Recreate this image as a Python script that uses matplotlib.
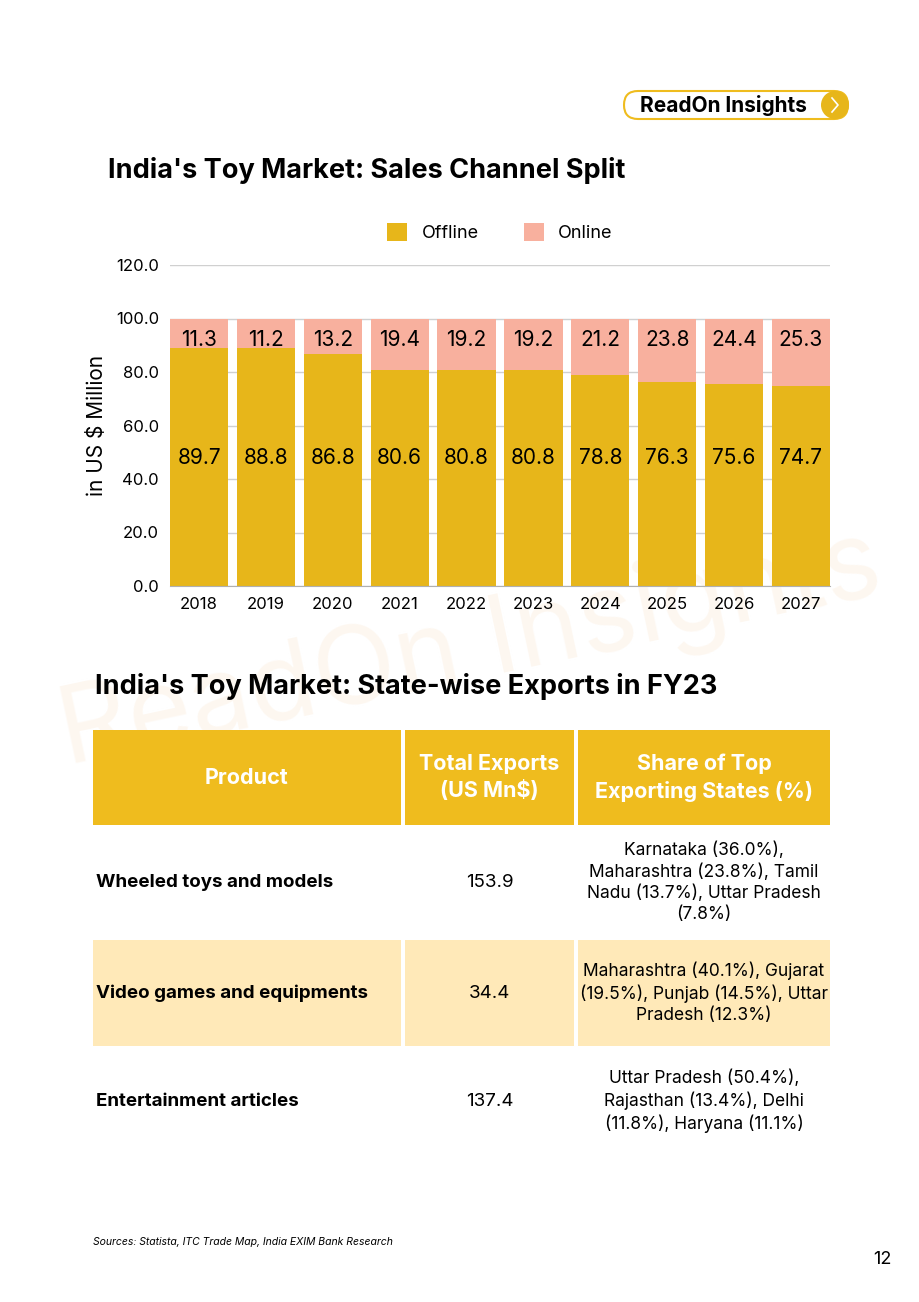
import numpy as np
import matplotlib.pyplot as plt
from matplotlib.patches import FancyBboxPatch, Rectangle, Circle

plt.rcParams['font.family'] = ['Inter', 'DejaVu Sans']

years = ["2018", "2019", "2020", "2021", "2022", "2023", "2024", "2025", "2026", "2027"]
offline = [89.7, 88.8, 86.8, 80.6, 80.8, 80.8, 78.8, 76.3, 75.6, 74.7]
online = [11.3, 11.2, 13.2, 19.4, 19.2, 19.2, 21.2, 23.8, 24.4, 25.3]

products = ["Wheeled toys and models", "Video games and equipments", "Entertainment articles"]
exports = ["153.9", "34.4", "137.4"]
states = ["Karnataka (36.0%),\nMaharashtra (23.8%), Tamil\nNadu (13.7%), Uttar Pradesh\n(7.8%)",
          "Maharashtra (40.1%), Gujarat\n(19.5%), Punjab (14.5%), Uttar\nPradesh (12.3%)",
          "Uttar Pradesh (50.4%),\nRajasthan (13.4%), Delhi\n(11.8%), Haryana (11.1%)"]
headers = ["Product", "Total Exports\n(US Mn$)", "Share of Top\nExporting States (%)"]

c_off = "#E7B61A"
c_on = "#F8B09E"
c_head = "#EFBC1E"
c_band = "#FFE9B8"

W, H = 920, 1302
fig = plt.figure(figsize=(W / 100, H / 100), dpi=100)

# page overlay in pixel coords
bg = fig.add_axes([0, 0, 1, 1])
bg.set_xlim(0, W)
bg.set_ylim(H, 0)
bg.axis("off")

# watermark
bg.text(470, 650, "ReadOn Insights", fontsize=78, color="#FBE6CF", alpha=0.3,
        rotation=12, ha="center", va="center", zorder=0)

# badge
bg.add_patch(FancyBboxPatch((624, 91), 224, 28, boxstyle="round,pad=0,rounding_size=14",
                            fc="white", ec="#EFBC1E", lw=1.5, zorder=2))
bg.add_patch(Circle((835, 105), 14, fc="#E7B61A", ec="none", zorder=3))
bg.plot([832, 838, 832], [98, 105, 112], color="white", lw=1.2, zorder=4)
bg.text(640, 105, "ReadOn Insights", fontsize=15, fontweight="bold", ha="left", va="center", zorder=4)

bg.text(108, 170, "India's Toy Market: Sales Channel Split", fontsize=19.5, fontweight="bold",
        ha="left", va="center")
bg.text(95, 687, "India's Toy Market: State-wise Exports in FY23", fontsize=19.5, fontweight="bold",
        ha="left", va="center")

# bar chart
ax = fig.add_axes([170 / W, 1 - 586 / H, 660 / W, (586 - 265) / H])
tot = np.array(offline) + np.array(online)
off_pct = np.array(offline) / tot * 100
on_pct = 100 - off_pct
x = np.arange(len(years))
ax.bar(x, off_pct, width=0.87, color=c_off, label="Offline", zorder=2)
ax.bar(x, on_pct, width=0.87, bottom=off_pct, color=c_on, label="Online", zorder=2)
for i in range(len(years)):
    ax.text(x[i], 48, f"{offline[i]:.1f}", ha="center", va="center", fontsize=15, zorder=3)
    ax.text(x[i], 92, f"{online[i]:.1f}", ha="center", va="center", fontsize=15, zorder=3)
ax.set_xlim(-0.435, len(years) - 1 + 0.435)
ax.set_ylim(0, 120)
ax.set_yticks(np.arange(0, 121, 20))
ax.set_yticklabels([f"{v:.1f}" for v in np.arange(0, 121, 20)], fontsize=12)
ax.set_xticks(x)
ax.set_xticklabels(years, fontsize=12)
ax.tick_params(length=0, pad=8)
ax.grid(axis="y", color="#D0D0D0", lw=1, zorder=0)
for s in ["top", "right", "left"]:
    ax.spines[s].set_visible(False)
ax.spines["bottom"].set_color("#B0B0B0")
ax.set_ylabel("in US $ Million", fontsize=15, labelpad=6)
ax.patch.set_alpha(0)
ax.legend(loc="center", bbox_to_anchor=(0.5, 1.1), ncol=2, frameon=False, fontsize=13,
          handlelength=1.1, handleheight=1.1, columnspacing=2.5)

# table
cols = [(93, 401), (405, 574), (578, 830)]
rows = [(730, 825), (827, 938), (940, 1046), (1048, 1155)]
for (x0, x1) in cols:
    bg.add_patch(Rectangle((x0, rows[0][0]), x1 - x0, rows[0][1] - rows[0][0], fc=c_head, ec="none"))
for (x0, x1) in cols:
    bg.add_patch(Rectangle((x0, rows[2][0]), x1 - x0, rows[2][1] - rows[2][0], fc=c_band, ec="none"))
for j, h in enumerate(headers):
    cx = (cols[j][0] + cols[j][1]) / 2
    bg.text(cx, (rows[0][0] + rows[0][1]) / 2, h, color="white", fontsize=15.5, fontweight="bold",
            ha="center", va="center", linespacing=1.4)
for i in range(len(products)):
    cy = (rows[i + 1][0] + rows[i + 1][1]) / 2
    bg.text(96, cy, products[i], fontsize=13.5, fontweight="bold", ha="left", va="center")
    bg.text((cols[1][0] + cols[1][1]) / 2, cy, exports[i], fontsize=13.5, ha="center", va="center")
    bg.text((cols[2][0] + cols[2][1]) / 2, cy, states[i], fontsize=12.5, ha="center", va="center",
            linespacing=1.3)

bg.text(93, 1242, "Sources: Statista, ITC Trade Map, India EXIM Bank Research", fontsize=7.5,
        style="italic", ha="left", va="center")
bg.text(892, 1260, "12", fontsize=13, ha="right", va="center")

fig.savefig("out.png", dpi=100)
